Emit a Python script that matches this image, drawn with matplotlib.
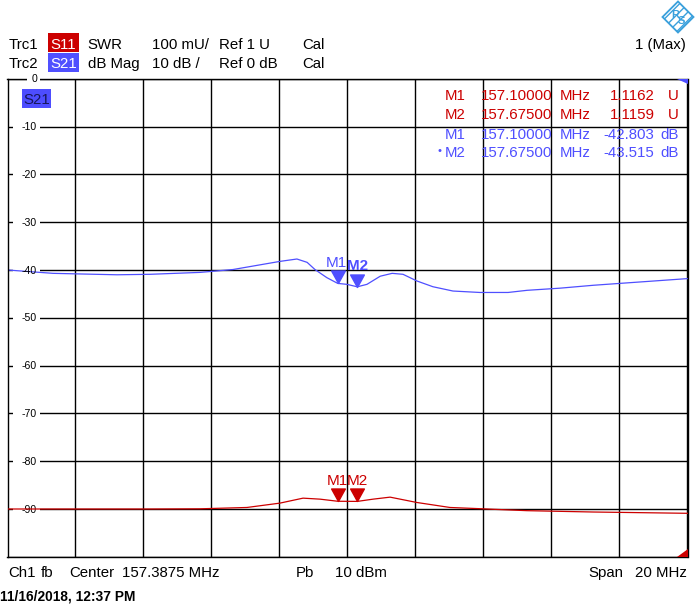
import numpy as np
import matplotlib
matplotlib.use("Agg")
import matplotlib.pyplot as plt
from matplotlib.patches import Rectangle, Polygon
from matplotlib.path import Path
from matplotlib.transforms import blended_transform_factory

plt.rcParams["font.family"] = ["Liberation Sans", "DejaVu Sans"]

# sweep settings
center_mhz = 157.3875
span_mhz = 20.0
f_start = center_mhz - span_mhz / 2
f_stop = center_mhz + span_mhz / 2

# Trc2: S21 in dB
s21_freq = [147.3875, 148.726, 150.608, 151.579, 153.049, 154.02, 155.40, 155.90,
            156.20, 156.43, 156.78, 157.10, 157.37, 157.675, 157.96, 158.35, 158.70,
            159.02, 159.43, 159.90, 160.49, 161.28, 162.11, 162.67, 163.64, 164.61,
            165.40, 166.20, 167.3875]
s21_db = [-40.0, -40.7, -41.0, -40.9, -40.5, -39.9, -38.2, -37.7,
          -38.4, -39.9, -41.6, -42.803, -43.0, -43.515, -43.0, -41.3, -40.7,
          -40.9, -42.3, -43.5, -44.4, -44.7, -44.7, -44.25, -43.8, -43.2,
          -42.8, -42.4, -41.8]

# Trc1: S11 as SWR
s11_freq = [147.3875, 151.579, 153.049, 154.43, 155.40, 156.08, 156.58, 157.10,
            157.675, 158.14, 158.64, 159.43, 160.40, 161.37, 161.67, 162.67,
            164.61, 167.3875]
s11_swr = [1.100, 1.100, 1.1004, 1.1032, 1.1123, 1.1227, 1.1206, 1.1162,
           1.1159, 1.1206, 1.1248, 1.1136, 1.1032, 1.1004, 1.0994, 1.0965,
           1.0937, 1.091]

marker_names = ["M1", "M2"]
marker_freq = [157.10, 157.675]
marker_s21 = [-42.803, -43.515]
marker_s11 = [1.1162, 1.1159]

db_labels = [0, -10, -20, -30, -40, -50, -60, -70, -80, -90]

RED = "#cc0000"
BLUE = "#4f4fff"
W, H = 695, 613
FS = 10.8

fig = plt.figure(figsize=(W / 100, H / 100), dpi=100)
left, right, top, bottom = 7.5, 687.5, 78.8, 556.8
ax = fig.add_axes([left / W, 1 - bottom / H, (right - left) / W, (bottom - top) / H])
ax.set_xlim(f_start, f_stop)
ax.set_ylim(-100, 0)
ax.set_xticks(np.arange(f_start, f_stop + 0.01, 2.0))
ax.set_yticks(np.arange(-100, 1, 10))
ax.tick_params(length=0, labelleft=False, labelbottom=False)
ax.grid(True, color="black", lw=1.0)
ax.set_axisbelow(True)
for sp in ax.spines.values():
    sp.set_linewidth(1.0)
ax.set_zorder(1)

ax2 = ax.twinx()
ax2.set_ylim(1.0, 2.0)
ax2.axis("off")
ax2.set_zorder(2)

# overlay in screen pixels for the annotation texts
ov = fig.add_axes([0, 0, 1, 1])
ov.set_xlim(0, W)
ov.set_ylim(H, 0)
ov.axis("off")
ov.patch.set_alpha(0)
ov.set_zorder(3)

# traces
ax.plot(s21_freq, s21_db, color=BLUE, lw=0.9, zorder=2)
ax2.plot(s11_freq, s11_swr, color=RED, lw=0.9, zorder=2)

# markers: triangle with its tip on the trace
tri = Path([(-0.55, 1.0), (0.55, 1.0), (0.0, 0.0), (-0.55, 1.0)],
           [Path.MOVETO, Path.LINETO, Path.LINETO, Path.CLOSEPOLY])
ax.plot(marker_freq, marker_s21, ls="none", marker=tri, ms=18, color=BLUE, zorder=4)
ax2.plot(marker_freq, marker_s11, ls="none", marker=tri, ms=18, color=RED, zorder=4)
for i, name in enumerate(marker_names):
    ax.annotate(name, (marker_freq[i], marker_s21[i]), xytext=(-1 if i == 0 else 0, 12),
                textcoords="offset points", ha="center", va="baseline", color=BLUE,
                fontsize=11, fontweight="bold" if i == 1 else "normal", zorder=4)
    ax2.annotate(name, (marker_freq[i], marker_s11[i]), xytext=(0, 11.5),
                 textcoords="offset points", ha="center", va="baseline", color=RED,
                 fontsize=11, zorder=4)

# y scale labels with gaps in the grid
blend = blended_transform_factory(ov.transData, ax.transData)
for v in db_labels:
    x0 = 27 if v == 0 else 13
    ax.add_patch(Rectangle((x0, v - 0.8), 39.5 - x0, 1.6, transform=blend, fc="white",
                           ec="none", clip_on=False, zorder=3 if v == 0 else 1))
    ax.text(37, v - 0.75, f"{v}", transform=blend, ha="right", va="baseline",
            fontsize=7.6, color="black", zorder=5, clip_on=False)

# header
ov.add_patch(Rectangle((47.7, 33.3), 31.3, 19, fc=RED, ec="none"))
ov.add_patch(Rectangle((47.7, 53.3), 31.3, 19, fc="#5050ff", ec="none"))
row1 = [(8.3, "Trc1", "black"), (50, "S11", "white"), (87.7, "SWR", "black"),
        (152, "100 mU/", "black"), (219.3, "Ref 1 U", "black"), (302.3, "Cal", "black")]
row2 = [(8.3, "Trc2", "black"), (50, "S21", "white"), (87.7, "dB Mag", "black"),
        (152, "10 dB /", "black"), (219.3, "Ref 0 dB", "black"), (302.3, "Cal", "black")]
for x, s, c in row1:
    ov.text(x, 49.3, s, ha="left", va="baseline", fontsize=FS, color=c)
for x, s, c in row2:
    ov.text(x, 68, s, ha="left", va="baseline", fontsize=FS, color=c)
ov.text(686, 49.3, "1 (Max)", ha="right", va="baseline", fontsize=FS, color="black")

# S21 label inside the diagram
ov.add_patch(Rectangle((21.7, 89.3), 29, 18.4, fc="#4d4dff", ec="none"))
ov.text(23, 104, "S21", ha="left", va="baseline", fontsize=FS, color="#16165a")

# marker list
rows = [
    ("M1", "157.10000", "1.1162", "U", RED, 100),
    ("M2", "157.67500", "1.1159", "U", RED, 119),
    ("M1", "157.10000", "-42.803", "dB", BLUE, 139),
    ("M2", "157.67500", "-43.515", "dB", BLUE, 157.3),
]
for name, fr, val, unit, c, yb in rows:
    ov.text(445, yb, name, ha="left", va="baseline", fontsize=FS, color=c)
    ov.text(481, yb, fr, ha="left", va="baseline", fontsize=FS, color=c)
    ov.text(559.3, yb, "MHz", ha="left", va="baseline", fontsize=FS, color=c)
    ov.text(654.5, yb, val, ha="right", va="baseline", fontsize=FS, color=c)
    ov.text(678.5, yb, unit, ha="right", va="baseline", fontsize=FS, color=c)
ov.text(440, 154.5, "\u2022", ha="center", va="baseline", fontsize=8, color=BLUE)

# corner flags
ov.add_patch(Polygon([(676.7, 79.3), (687.5, 79.3), (687.5, 84)], closed=True,
                     fc="#4d4dff", ec="none"))
ov.add_patch(Polygon([(677, 556.8), (687.5, 556.8), (687.5, 549)], closed=True,
                     fc=RED, ec="none"))

# footer
ov.text(8, 576.7, "Ch1", ha="left", va="baseline", fontsize=FS)
ov.text(41, 576.7, "fb", ha="left", va="baseline", fontsize=FS)
ov.text(69, 576.7, "Center", ha="left", va="baseline", fontsize=FS)
ov.text(122, 576.7, "157.3875 MHz", ha="left", va="baseline", fontsize=FS)
ov.text(296, 576.7, "Pb", ha="left", va="baseline", fontsize=FS)
ov.text(335, 576.7, "10 dBm", ha="left", va="baseline", fontsize=FS)
ov.text(588.5, 576.7, "Span", ha="left", va="baseline", fontsize=FS)
ov.text(687, 576.7, "20 MHz", ha="right", va="baseline", fontsize=FS)
ov.text(0, 600.7, "11/16/2018, 12:37 PM", ha="left", va="baseline", fontsize=9.9,
        fontweight="bold")

# R&S logo
ov.add_patch(Polygon([(678, 1.5), (693.5, 17), (678, 32.5), (662.5, 17)], closed=True,
                     fc="white", ec="#3aa0dc", lw=1.3, hatch="////"))
ov.text(675, 15, "R", ha="center", va="center", fontsize=8, color="#3aa0dc",
        fontweight="bold")
ov.text(681.5, 21, "S", ha="center", va="center", fontsize=8, color="#3aa0dc",
        fontweight="bold")

fig.savefig("out.png", dpi=100)
